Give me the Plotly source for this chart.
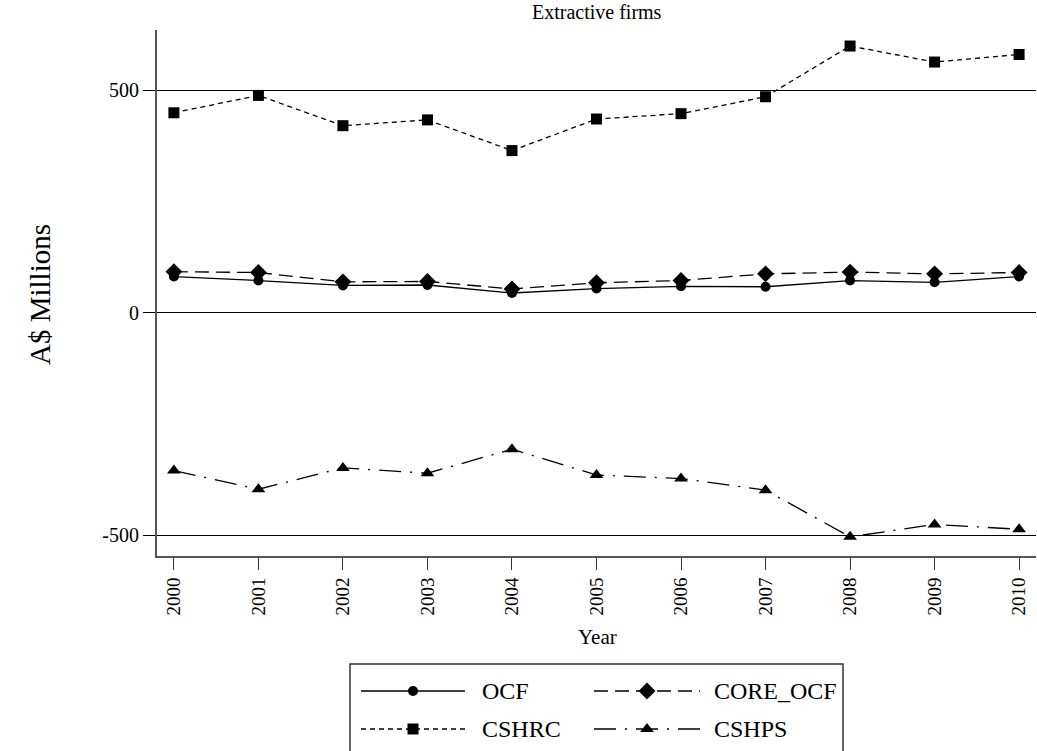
import plotly.graph_objects as go

# ---- data ----
years = [2000, 2001, 2002, 2003, 2004, 2005, 2006, 2007, 2008, 2009, 2010]
ocf = [81, 72, 61, 62, 44, 54, 59, 58, 72, 68, 81]
core_ocf = [92, 90, 69, 70, 53, 67, 72, 87, 91, 87, 90]
cshrc = [449, 488, 420, 433, 364, 435, 447, 485, 599, 563, 580]
cshps = [-355, -397, -349, -361, -307, -365, -373, -399, -504, -476, -487]
y_ticks = [-500, 0, 500]
y_tick_labels = ["-500", "0", "500"]
series_names = ["OCF", "CORE_OCF", "CSHRC", "CSHPS"]

FONT = "Liberation Serif, Times New Roman, serif"
W, H = 1037, 751
L, R, T, B = 157, 1, 30, 0
PLOT_BOTTOM_PX = 556
plot_h = H - T - B
main_bottom = (H - PLOT_BOTTOM_PX) / plot_h

styles = {
    "OCF": dict(dash="solid", symbol="circle", size=10),
    "CORE_OCF": dict(dash="14px,7px", symbol="diamond", size=13),
    "CSHRC": dict(dash="5px,4px", symbol="square", size=11),
    "CSHPS": dict(dash="22px,9px,2px,9px", symbol="triangle-up", size=12),
}
values = {"OCF": ocf, "CORE_OCF": core_ocf, "CSHRC": cshrc, "CSHPS": cshps}

fig = go.Figure()
for name in series_names:
    st = styles[name]
    fig.add_trace(go.Scatter(
        x=years, y=values[name], mode="lines+markers", name=name,
        line=dict(color="black", width=1.3, dash=st["dash"]),
        marker=dict(color="black", symbol=st["symbol"], size=st["size"]),
        showlegend=False, cliponaxis=False,
    ))

# ---- custom legend drawn on a pixel-scaled helper axis ----
leg_cols = [(361, 465, 480), (594, 700, 712)]
leg_rows = [691, 729]
for i, name in enumerate(series_names):
    st = styles[name]
    x0, x1, tx = leg_cols[i % 2]
    yy = leg_rows[i // 2]
    fig.add_trace(go.Scatter(
        x=[x0, x1], y=[yy, yy], mode="lines", xaxis="x2", yaxis="y2",
        line=dict(color="black", width=1.3, dash=st["dash"]),
        showlegend=False, hoverinfo="skip", cliponaxis=False,
    ))
    fig.add_trace(go.Scatter(
        x=[(x0 + x1) / 2], y=[yy], mode="markers", xaxis="x2", yaxis="y2",
        marker=dict(color="black", symbol=st["symbol"], size=st["size"]),
        showlegend=False, hoverinfo="skip", cliponaxis=False,
    ))
    fig.add_annotation(x=tx, y=yy, xref="x2", yref="y2", text=name,
                       showarrow=False, xanchor="left", yanchor="middle",
                       font=dict(family=FONT, size=24, color="black"))

leg_dom_top = 0.2
fig.add_shape(type="rect", xref="paper", yref="paper",
              x0=(350 - L) / (W - L - R), x1=(843 - L) / (W - L - R),
              y0=-0.05, y1=(H - 664) / plot_h,
              line=dict(color="#333333", width=1.5), fillcolor="rgba(0,0,0,0)")

fig.update_layout(
    width=W, height=H,
    margin=dict(l=L, r=R, t=T, b=B),
    paper_bgcolor="white", plot_bgcolor="white",
    font=dict(family=FONT, size=20, color="black"),
    xaxis=dict(
        domain=[0, 1], anchor="y",
        range=[1999.8, 2010.2], tickmode="array", tickvals=years,
        ticktext=[str(y) for y in years], tickangle=-90,
        ticks="outside", ticklen=12, tickcolor="#333333", tickwidth=1.3,
        showline=True, linecolor="#555555", linewidth=2,
        showgrid=False, zeroline=False,
        tickfont=dict(family=FONT, size=19, color="black"),
    ),
    yaxis=dict(
        domain=[main_bottom, 1], anchor="x",
        range=[-547, 635], tickmode="array", tickvals=y_ticks,
        ticktext=y_tick_labels,
        ticks="outside", ticklen=12, tickcolor="black", tickwidth=1.3,
        showline=True, linecolor="#555555", linewidth=2,
        showgrid=True, gridcolor="black", gridwidth=1.3, zeroline=False,
        tickfont=dict(family=FONT, size=20, color="black"),
    ),
    xaxis2=dict(domain=[0, 1], anchor="y2", range=[L, W - R], visible=False,
                fixedrange=True),
    yaxis2=dict(domain=[0, leg_dom_top], anchor="x2",
                range=[H, H - leg_dom_top * plot_h], visible=False,
                fixedrange=True),
    showlegend=False,
)

fig.add_annotation(text="Extractive firms", xref="paper", yref="paper",
                   x=0.5, y=(H - 12) / plot_h, showarrow=False,
                   xanchor="center", yanchor="middle",
                   font=dict(family=FONT, size=20, color="black"))
fig.add_annotation(text="A$ Millions", xref="paper", yref="paper",
                   x=(40 - L) / (W - L - R), y=(H - 294) / plot_h,
                   textangle=-90, showarrow=False,
                   xanchor="center", yanchor="middle",
                   font=dict(family=FONT, size=29, color="black"))
fig.add_annotation(text="Year", xref="paper", yref="paper",
                   x=(597 - L) / (W - L - R), y=(H - 637) / plot_h,
                   showarrow=False, xanchor="center", yanchor="middle",
                   font=dict(family=FONT, size=21, color="black"))

fig.write_html("out.html")
